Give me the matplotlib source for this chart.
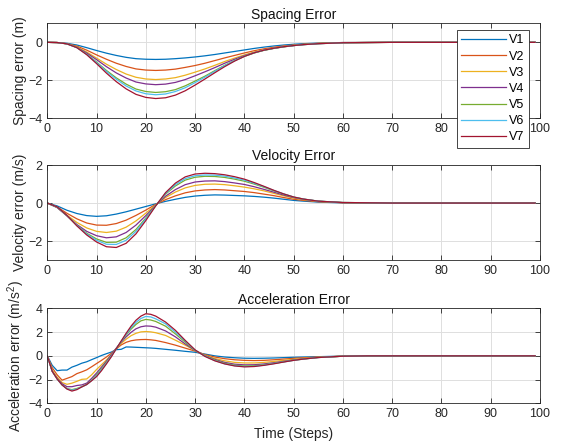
import matplotlib.pyplot as plt
import numpy as np

# ==== data ====
labels = ["V1", "V2", "V3", "V4", "V5", "V6", "V7"]
colors = ["#0072BD", "#D95319", "#EDB120", "#7E2F8E", "#77AC30", "#4DBEEE", "#A2142F"]

# spacing / velocity sample steps
steps = list(range(0, 53, 2)) + [55, 60, 70, 99]

spacing_v1 = [0, -0.01, -0.05, -0.14, -0.28, -0.43, -0.57, -0.69, -0.79, -0.86, -0.89, -0.90, -0.89, -0.86, -0.82, -0.77, -0.71, -0.64, -0.56, -0.48, -0.40, -0.32, -0.25, -0.19, -0.14, -0.10, -0.07, -0.04, -0.01, 0, 0]
spacing_v2 = [0, -0.01, -0.07, -0.20, -0.41, -0.66, -0.89, -1.10, -1.27, -1.40, -1.46, -1.48, -1.46, -1.41, -1.32, -1.22, -1.10, -0.96, -0.82, -0.69, -0.56, -0.44, -0.34, -0.26, -0.19, -0.14, -0.10, -0.05, -0.01, 0, 0]
spacing_v3 = [0, -0.01, -0.08, -0.24, -0.51, -0.83, -1.15, -1.43, -1.67, -1.84, -1.93, -1.96, -1.93, -1.86, -1.73, -1.57, -1.40, -1.21, -1.01, -0.83, -0.66, -0.51, -0.40, -0.30, -0.22, -0.16, -0.11, -0.06, -0.02, 0, 0]
spacing_v4 = [0, -0.01, -0.08, -0.26, -0.56, -0.91, -1.28, -1.61, -1.88, -2.09, -2.19, -2.23, -2.20, -2.11, -1.96, -1.76, -1.55, -1.33, -1.10, -0.89, -0.70, -0.54, -0.41, -0.31, -0.23, -0.17, -0.12, -0.07, -0.02, 0, 0]
spacing_v5 = [0, -0.01, -0.08, -0.27, -0.62, -1.04, -1.48, -1.87, -2.20, -2.46, -2.59, -2.64, -2.60, -2.49, -2.29, -2.04, -1.78, -1.49, -1.21, -0.96, -0.74, -0.56, -0.42, -0.32, -0.24, -0.17, -0.12, -0.07, -0.02, 0, 0]
spacing_v6 = [0, -0.01, -0.08, -0.28, -0.63, -1.07, -1.53, -1.94, -2.30, -2.56, -2.71, -2.76, -2.72, -2.59, -2.39, -2.12, -1.83, -1.53, -1.23, -0.97, -0.73, -0.55, -0.41, -0.31, -0.23, -0.17, -0.12, -0.07, -0.02, 0, 0]
spacing_v7 = [0, -0.01, -0.08, -0.28, -0.65, -1.12, -1.62, -2.07, -2.45, -2.74, -2.90, -2.96, -2.92, -2.78, -2.55, -2.25, -1.93, -1.60, -1.28, -0.99, -0.74, -0.55, -0.41, -0.31, -0.23, -0.17, -0.12, -0.07, -0.02, 0, 0]

velocity_v1 = [0, -0.15, -0.38, -0.55, -0.66, -0.70, -0.67, -0.58, -0.46, -0.32, -0.18, -0.04, 0.09, 0.20, 0.30, 0.37, 0.41, 0.43, 0.42, 0.40, 0.38, 0.35, 0.31, 0.26, 0.20, 0.14, 0.10, 0.05, 0.01, 0, 0]
velocity_v2 = [0, -0.20, -0.54, -0.83, -1.05, -1.16, -1.17, -1.08, -0.90, -0.65, -0.37, -0.07, 0.18, 0.38, 0.54, 0.64, 0.69, 0.71, 0.69, 0.65, 0.61, 0.55, 0.47, 0.39, 0.29, 0.20, 0.14, 0.07, 0.02, 0, 0]
velocity_v3 = [0, -0.23, -0.64, -1.02, -1.31, -1.49, -1.55, -1.48, -1.27, -0.94, -0.53, -0.10, 0.29, 0.58, 0.80, 0.93, 0.99, 1.00, 0.97, 0.91, 0.84, 0.75, 0.64, 0.51, 0.38, 0.26, 0.18, 0.09, 0.02, 0, 0]
velocity_v4 = [0, -0.24, -0.68, -1.13, -1.49, -1.72, -1.83, -1.78, -1.55, -1.16, -0.66, -0.12, 0.36, 0.71, 0.97, 1.11, 1.16, 1.17, 1.13, 1.06, 0.98, 0.86, 0.72, 0.57, 0.42, 0.29, 0.20, 0.10, 0.02, 0, 0]
velocity_v5 = [0, -0.22, -0.67, -1.17, -1.59, -1.89, -2.07, -2.06, -1.83, -1.39, -0.79, -0.13, 0.47, 0.90, 1.21, 1.36, 1.41, 1.40, 1.35, 1.26, 1.15, 1.00, 0.83, 0.64, 0.47, 0.31, 0.21, 0.10, 0.03, 0, 0]
velocity_v6 = [0, -0.21, -0.66, -1.18, -1.63, -1.96, -2.17, -2.18, -1.96, -1.49, -0.84, -0.14, 0.51, 0.97, 1.29, 1.44, 1.48, 1.47, 1.42, 1.32, 1.21, 1.04, 0.86, 0.66, 0.48, 0.32, 0.21, 0.10, 0.03, 0, 0]
velocity_v7 = [0, -0.20, -0.65, -1.20, -1.68, -2.05, -2.30, -2.34, -2.12, -1.62, -0.92, -0.15, 0.55, 1.05, 1.38, 1.53, 1.57, 1.55, 1.49, 1.39, 1.26, 1.08, 0.88, 0.67, 0.48, 0.32, 0.21, 0.10, 0.03, 0, 0]

# acceleration sample steps (finer at the start, the curves are jagged there)
steps_acc = list(range(0, 23)) + list(range(24, 53, 2)) + [55, 60, 65, 99]

acc_v1 = [0, -0.8, -1.25, -1.2, -1.2, -0.95, -0.8, -0.62, -0.5, -0.32, -0.15, 0.03, 0.18, 0.32, 0.52, 0.55, 0.75, 0.74, 0.72, 0.70, 0.68, 0.66, 0.63,
          0.55, 0.47, 0.38, 0.30, 0.15, 0.0, -0.10, -0.16, -0.20, -0.21, -0.20, -0.18, -0.15, -0.12, -0.10, -0.07, -0.02, 0, 0]
acc_v2 = [0, -1.0, -1.6, -2.05, -1.9, -1.75, -1.5, -1.35, -1.18, -0.92, -0.65, -0.38, -0.10, 0.22, 0.58, 0.92, 1.14, 1.27, 1.34, 1.37, 1.38, 1.35, 1.30,
          1.12, 0.90, 0.65, 0.40, 0.10, -0.10, -0.24, -0.33, -0.38, -0.40, -0.38, -0.33, -0.27, -0.21, -0.16, -0.10, -0.03, 0, 0]
acc_v3 = [0, -1.2, -1.8, -2.25, -2.4, -2.3, -2.15, -1.98, -1.95, -1.6, -1.15, -0.75, -0.35, 0.10, 0.60, 1.05, 1.40, 1.70, 1.90, 2.02, 2.05, 2.02, 1.95,
          1.72, 1.32, 0.90, 0.45, 0.05, -0.22, -0.42, -0.55, -0.60, -0.60, -0.55, -0.47, -0.38, -0.29, -0.21, -0.12, -0.03, 0, 0]
acc_v4 = [0, -1.3, -1.9, -2.35, -2.6, -2.6, -2.5, -2.45, -2.3, -1.9, -1.45, -0.95, -0.45, 0.10, 0.65, 1.15, 1.60, 1.98, 2.28, 2.45, 2.52, 2.50, 2.42,
          2.10, 1.60, 1.00, 0.45, 0.02, -0.30, -0.55, -0.70, -0.76, -0.75, -0.68, -0.58, -0.46, -0.35, -0.25, -0.14, -0.03, 0, 0]
acc_v5 = [0, -1.3, -1.95, -2.45, -2.75, -2.85, -2.75, -2.6, -2.4, -2.05, -1.6, -1.1, -0.55, 0.0, 0.60, 1.20, 1.75, 2.25, 2.65, 2.95, 3.07, 3.02, 2.90,
          2.50, 1.85, 1.15, 0.45, 0.0, -0.35, -0.62, -0.78, -0.85, -0.83, -0.75, -0.63, -0.50, -0.37, -0.27, -0.14, -0.03, 0, 0]
acc_v6 = [0, -1.3, -1.95, -2.45, -2.78, -2.9, -2.8, -2.62, -2.42, -2.08, -1.68, -1.18, -0.62, -0.03, 0.60, 1.22, 1.82, 2.37, 2.82, 3.15, 3.32, 3.28, 3.12,
          2.70, 2.00, 1.25, 0.48, -0.02, -0.40, -0.67, -0.83, -0.90, -0.88, -0.78, -0.65, -0.51, -0.38, -0.27, -0.14, -0.03, 0, 0]
acc_v7 = [0, -1.3, -1.95, -2.45, -2.8, -2.97, -2.85, -2.62, -2.42, -2.1, -1.75, -1.25, -0.68, -0.08, 0.60, 1.25, 1.90, 2.50, 3.00, 3.35, 3.55, 3.50, 3.35,
          2.85, 2.15, 1.30, 0.50, -0.05, -0.42, -0.68, -0.85, -0.93, -0.90, -0.80, -0.67, -0.52, -0.38, -0.27, -0.14, -0.03, 0, 0]

spacing = [spacing_v1, spacing_v2, spacing_v3, spacing_v4, spacing_v5, spacing_v6, spacing_v7]
velocity = [velocity_v1, velocity_v2, velocity_v3, velocity_v4, velocity_v5, velocity_v6, velocity_v7]
acceleration = [acc_v1, acc_v2, acc_v3, acc_v4, acc_v5, acc_v6, acc_v7]

# ==== figure ====
plt.rcParams['font.family'] = ['Liberation Sans', 'DejaVu Sans']
plt.rcParams['mathtext.fontset'] = 'custom'
plt.rcParams['mathtext.rm'] = 'Liberation Sans'
plt.rcParams['mathtext.it'] = 'Liberation Sans'

axis_col = "#262626"
fig = plt.figure(figsize=(5.69, 4.45), dpi=100)

left, width, height = 0.0831, 0.866, 0.2133
panels = [
    (0.7342, steps, spacing, "Spacing Error", "Spacing error (m)", (-4, 1), [-4, -2, 0]),
    (0.4157, steps, velocity, "Velocity Error", "Velocity error (m/s)", (-3, 2), [-2, 0, 2]),
    (0.0937, steps_acc, acceleration, "Acceleration Error", "Acceleration error (m/s$^2$)", (-4, 4), [-4, -2, 0, 2, 4]),
]

axes = []
for bottom, xs, series, title, ylabel, ylim, yticks in panels:
    ax = fig.add_axes([left, bottom, width, height])
    for vals, c, lab in zip(series, colors, labels):
        ax.plot(xs, vals, color=c, lw=0.9, label=lab)
    ax.set_xlim(0, 100)
    ax.set_ylim(*ylim)
    ax.set_xticks(np.arange(0, 101, 10))
    ax.set_yticks(yticks)
    ax.grid(True, color="#dedede", lw=0.7)
    ax.set_axisbelow(True)
    ax.tick_params(direction="in", length=3.5, width=0.6, colors=axis_col,
                   labelsize=9, top=True, right=True, pad=3.5)
    for sp in ax.spines.values():
        sp.set_color(axis_col)
        sp.set_linewidth(0.6)
    ax.set_title(title, fontsize=10, pad=3.5, color="#111111")
    ax.set_ylabel(ylabel, fontsize=10, labelpad=0.5, color=axis_col)
    axes.append(ax)

axes[-1].set_xlabel("Time (Steps)", fontsize=10, labelpad=5, color=axis_col)

handles, labs = axes[0].get_legend_handles_labels()
leg = fig.legend(handles, labs, loc="upper right", bbox_to_anchor=(529 / 569, 1 - 30 / 445),
                 fontsize=9, handlelength=3.6, handletextpad=0.25, borderpad=0.35,
                 labelspacing=0.33, borderaxespad=0, fancybox=False, framealpha=1)
leg.get_frame().set_edgecolor("#262626")
leg.get_frame().set_linewidth(0.6)

fig.savefig("out.png", dpi=100)
